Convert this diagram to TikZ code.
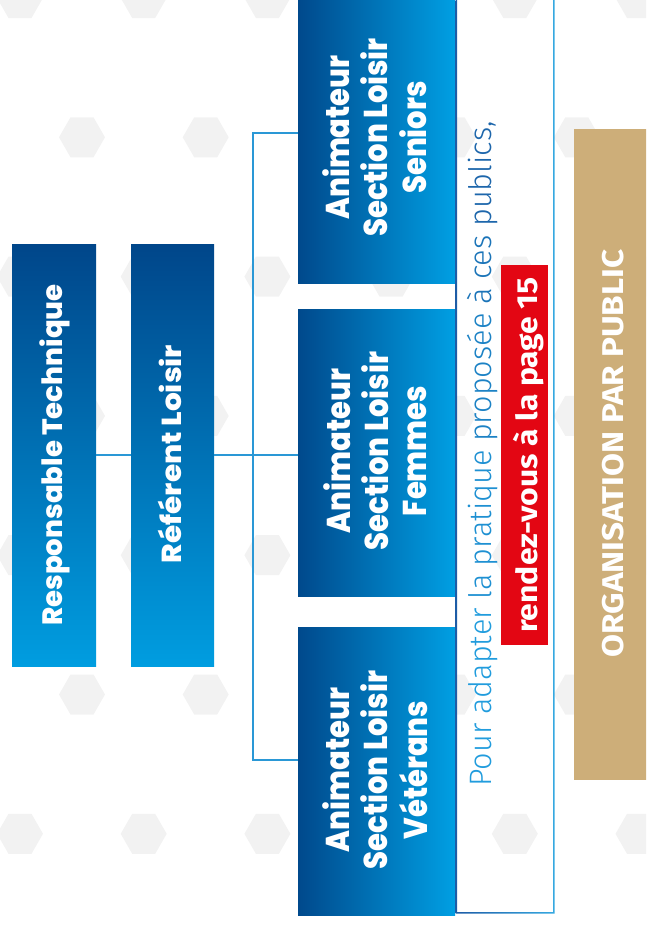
\documentclass[tikz,border=0pt]{standalone}
\usepackage{fontspec}
\usepackage{graphicx}
\newfontfamily\popfont{Poppins}[BoldFont={* ExtraBold}]
\newfontfamily\firafont{Fira Sans}
\newfontfamily\firalight{Fira Sans Light}
\definecolor{dblue}{HTML}{00498C}
\definecolor{lblue}{HTML}{009FE3}
\definecolor{vtop}{HTML}{00468A}
\definecolor{vbot}{HTML}{009DE0}
\definecolor{connc}{HTML}{2A98D6}
\definecolor{redc}{HTML}{E30613}
\definecolor{goldc}{HTML}{CDAE79}
\definecolor{hexc}{HTML}{F2F2F2}
\definecolor{bordL}{HTML}{1D5CA6}
\definecolor{bordR}{HTML}{36A9E1}
\definecolor{tA}{HTML}{219CDD}
\definecolor{tB}{HTML}{1E90D2}
\definecolor{tC}{HTML}{1C82C5}
\definecolor{tD}{HTML}{1B74B8}
\definecolor{tE}{HTML}{1D66AB}
\tikzset{
  vbox/.style={top color=vtop, bottom color=vbot, draw=none, inner sep=0pt, minimum height=422pt},
  hbox/.style={left color=dblue, right color=lblue, draw=none, inner sep=0pt, minimum width=157pt},
  bigtxt/.style={text=white, rotate=90, anchor=base, inner sep=0pt},
  conn/.style={draw=connc, line width=1.2pt},
  hexa/.style={fill=hexc, draw=none},
}
\begin{document}
\begin{tikzpicture}[x=1pt,y=-1pt]
\useasboundingbox (0,0) rectangle (646,930);
\clip (0,0) rectangle (646,930);
% background hexagons
\foreach \k in {0,...,7}{
  \pgfmathsetmacro\yy{-2+139.3*\k}
  \pgfmathsetmacro\xo{20+62*mod(\k,2)}
  \foreach \j in {-1,...,5}{
    \pgfmathsetmacro\xx{\xo+123.7*\j}
    \fill[hexa] (\xx+23,\yy) -- ++(-11.5,20) -- ++(-23,0) -- ++(-11.5,-20) -- ++(11.5,-20) -- ++(23,0) -- cycle;
  }
}
% boxes
\node[vbox, minimum width=84pt] (rt) at (54,455) {};
\node[vbox, minimum width=83pt] (rl) at (172.5,455) {};
\node[hbox, minimum height=291pt] (sen) at (376.5,137.5) {};
\node[hbox, minimum height=287pt] (fem) at (376.5,452.5) {};
\node[hbox, minimum height=288pt] (vet) at (376.5,771) {};
% connectors
\coordinate (ba) at (253,133);
\coordinate (bb) at (253,760);
\draw[conn] (rt.east) -- (rl.west);
\draw[conn] (rl.east) -- (rl.east -| fem.west);
\draw[conn] (ba -| sen.west) -- (ba) -- (bb) -- (bb -| vet.west);
% texts in boxes
\node[bigtxt, font=\popfont\bfseries\fontsize{28}{34}\selectfont] (rtt) at (62.7,455) {\scalebox{0.985}[1]{Responsable Technique}};
\node[bigtxt, font=\popfont\bfseries\fontsize{27.5}{34}\selectfont] (rlt) at (181.7,454) {\scalebox{1.075}[1]{Référent Loisir}};
\node[bigtxt, font=\popfont\bfseries\fontsize{33}{37.5}\selectfont] (sent) at (426,137.5)
  {\scalebox{0.88}[1]{\begin{tabular}[b]{@{}c@{}}Animateur\\Section Loisir\\Seniors\end{tabular}}};
\node[bigtxt, font=\popfont\bfseries\fontsize{33}{37.5}\selectfont] (femt) at (426,451)
  {\scalebox{0.88}[1]{\begin{tabular}[b]{@{}c@{}}Animateur\\Section Loisir\\Femmes\end{tabular}}};
\node[bigtxt, font=\popfont\bfseries\fontsize{33}{37.5}\selectfont] (vett) at (427,770)
  {\scalebox{0.88}[1]{\begin{tabular}[b]{@{}c@{}}Animateur\\Section Loisir\\Vétérans\end{tabular}}};
% text frame with gradient border
\shade[left color=bordL, right color=bordR, even odd rule]
  (455.5,-20) rectangle (554.5,913.5) (457,-20) rectangle (553,912);
\node[rotate=90, anchor=base, inner sep=0pt, font=\firalight\fontsize{31}{36}\selectfont] (ptxt) at (491.7,454)
  {\scalebox{0.99}[1]{\color{tA}Pour adapter \color{tB}la pratique \color{tC}proposée \color{tD}à ces \color{tE}publics,}};
% red box
\node[fill=redc, draw=none, inner sep=0pt, minimum width=47pt, minimum height=380pt] (rv) at (524.5,455) {};
\node[bigtxt, font=\firafont\bfseries\fontsize{29}{34}\selectfont] (rvt) at (537,455) {\scalebox{1.1}[1]{rendez-vous à la page 15}};
% gold box
\node[fill=goldc, draw=none, inner sep=0pt, minimum width=76pt, minimum height=651pt] (org) at (612,454.5) {};
\node[bigtxt, font=\firafont\bfseries\fontsize{30}{36}\selectfont] (orgt) at (623,453.5) {\scalebox{1.11}[1]{ORGANISATION PAR PUBLIC}};
\end{tikzpicture}
\end{document}
